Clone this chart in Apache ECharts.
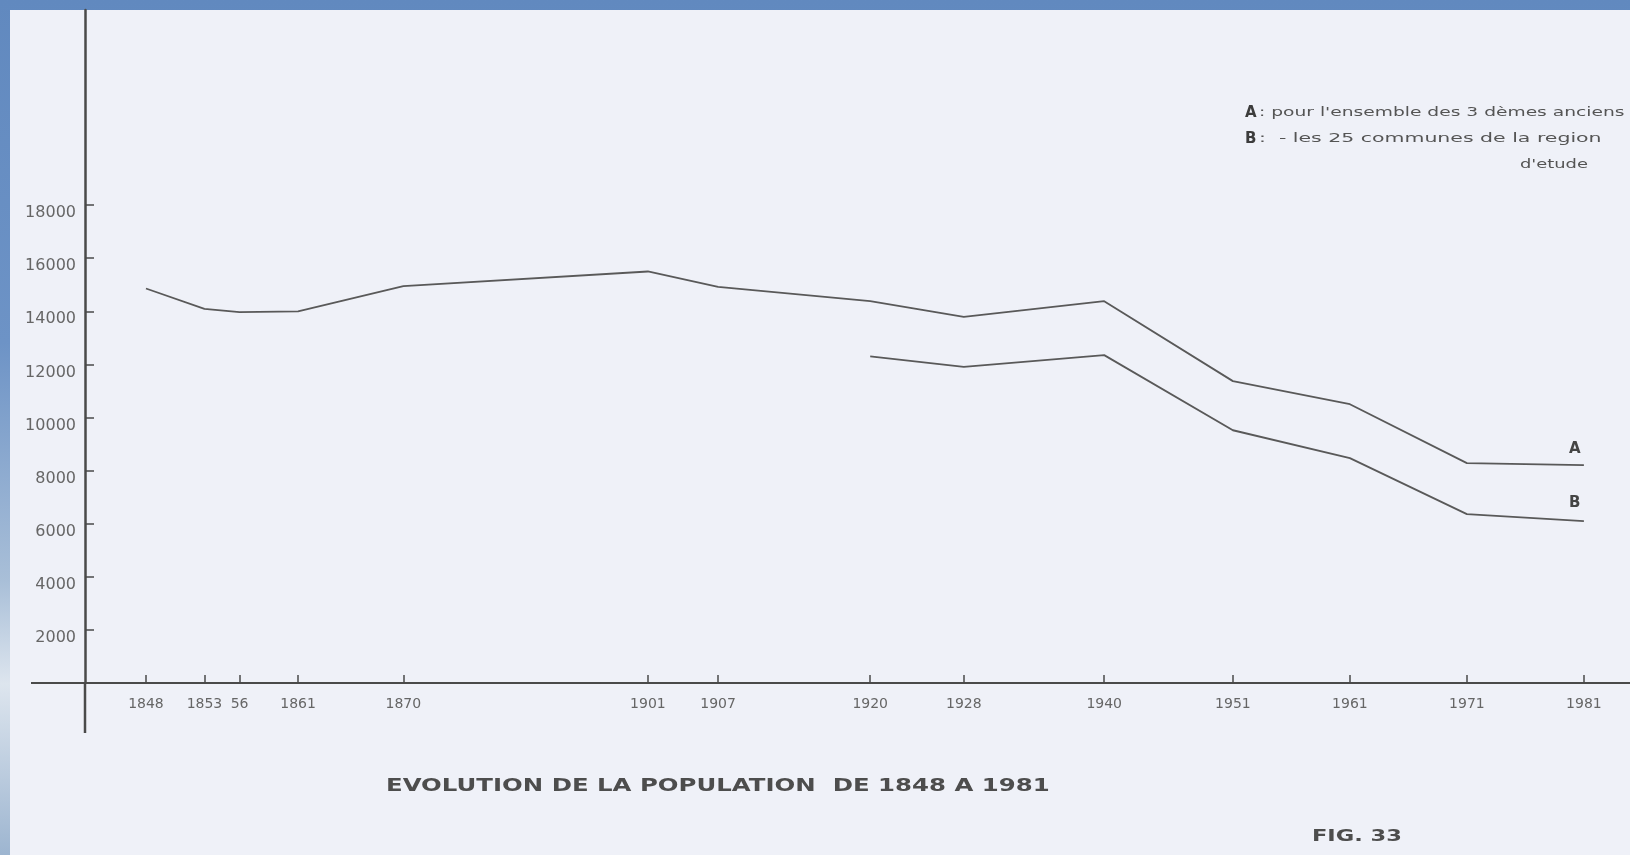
<!DOCTYPE html>
<html><head><meta charset="utf-8">
<script src="https://cdn.jsdelivr.net/npm/echarts@6/dist/echarts.min.js"></script>
<style>
html,body{margin:0;padding:0;width:1630px;height:855px;overflow:hidden;
background:linear-gradient(180deg,#6189bf 0%,#6d93c6 40%,#a9bfd8 68%,#dde5ee 80%,#9db5d0 100%);}
#paper{position:absolute;left:10px;top:10px;right:0;bottom:0;background:#eff1f8;}
#chart{position:absolute;left:0;top:0;width:1630px;height:855px;}
</style></head><body>
<div id="paper"></div><div id="chart"></div>
<script>
// ---- data ----
const years = [1848, 1853, 1856, 1861, 1870, 1901, 1907, 1920, 1928, 1940, 1951, 1961, 1971, 1981];
const tickLabels = ['1848', '1853', '56', '1861', '1870', '1901', '1907', '1920', '1928', '1940', '1951', '1961', '1971', '1981'];
const seriesA = [14860, 14090, 13970, 14000, 14950, 15500, 14920, 14380, 13790, 14380, 11370, 10500, 8280, 8210];
const yearsB = [1920, 1928, 1940, 1951, 1961, 1971, 1981];
const seriesB = [12300, 11910, 12350, 9520, 8470, 6360, 6100];
const yTicks = [2000, 4000, 6000, 8000, 10000, 12000, 14000, 16000, 18000];
const legendA = ": pour l'ensemble des 3 dèmes anciens";
const legendB = ":  - les 25 communes de la region";
const legendB2 = "d'etude";
const title = 'EVOLUTION DE LA POPULATION  DE 1848 A 1981';
const figLabel = 'FIG. 33';

const ink = '#4a4a4a';
const lineInk = '#595959';
const labelInk = '#666666';

const chart = echarts.init(document.getElementById('chart'), null, {renderer: 'canvas'});
chart.setOption({
  animation: false,
  backgroundColor: 'transparent',
  grid: {left: 85, right: 0, top: 10, bottom: 172, containLabel: false},
  xAxis: {
    type: 'value',
    min: 1842.79,
    max: 1984.94,
    breaks: [{start: 1874, end: 1897, gap: 12.9}],
    breakArea: {show: false},
    axisLine: {show: true, lineStyle: {color: ink, width: 2}},
    axisTick: {show: true, inside: true, length: 8, customValues: years, lineStyle: {color: ink, width: 1.5}},
    axisLabel: {
      show: true, customValues: years, margin: 14,
      fontFamily: 'DejaVu Sans', fontSize: 14, color: labelInk,
      formatter: function (v) { const i = years.indexOf(v); return i >= 0 ? tickLabels[i] : ''; }
    },
    splitLine: {show: false}
  },
  yAxis: {
    type: 'value',
    min: 0,
    max: 25349,
    axisLine: {show: true, lineStyle: {color: ink, width: 2.5}},
    axisTick: {show: true, inside: true, length: 9, customValues: yTicks, lineStyle: {color: ink, width: 1.5}},
    axisLabel: {
      show: true, customValues: yTicks, margin: 9, verticalAlign: 'top',
      fontFamily: 'DejaVu Sans', fontSize: 16, color: labelInk,
      formatter: function (v) { return String(v); }
    },
    splitLine: {show: false}
  },
  series: [
    {
      name: 'A', type: 'line', symbol: 'none',
      data: years.map((y, i) => [y, seriesA[i]]),
      lineStyle: {color: lineInk, width: 1.8},
      endLabel: {show: true, formatter: '{a}', offset: [-23, -16], fontFamily: 'DejaVu Sans', fontWeight: 'bold', fontSize: 15, color: '#444'}
    },
    {
      name: 'B', type: 'line', symbol: 'none',
      data: yearsB.map((y, i) => [y, seriesB[i]]),
      lineStyle: {color: lineInk, width: 1.8},
      endLabel: {show: true, formatter: '{a}', offset: [-23, -18], fontFamily: 'DejaVu Sans', fontWeight: 'bold', fontSize: 15, color: '#444'}
    }
  ],
  graphic: [
    {type: 'line', z: 0, shape: {x1: 31, y1: 683, x2: 1630, y2: 683}, style: {stroke: ink, lineWidth: 2}},
    {type: 'line', z: 0, shape: {x1: 85, y1: 682, x2: 85, y2: 733}, style: {stroke: ink, lineWidth: 2.5}},
    {type: 'text', x: 1245, y: 113, style: {text: 'A', fontFamily: 'DejaVu Sans', fontWeight: 'bold', fontSize: 15, fill: '#3c3c3c', verticalAlign: 'middle', align: 'left'}},
    {type: 'text', x: 1259, y: 113, scaleX: 1.555, style: {text: legendA, fontFamily: 'DejaVu Sans', fontSize: 12, fill: '#555', verticalAlign: 'middle', align: 'left'}},
    {type: 'text', x: 1245, y: 139, style: {text: 'B', fontFamily: 'DejaVu Sans', fontWeight: 'bold', fontSize: 15, fill: '#3c3c3c', verticalAlign: 'middle', align: 'left'}},
    {type: 'text', x: 1259, y: 139, scaleX: 1.705, style: {text: legendB, fontFamily: 'DejaVu Sans', fontSize: 12, fill: '#555', verticalAlign: 'middle', align: 'left'}},
    {type: 'text', x: 1520, y: 165, scaleX: 1.49, style: {text: legendB2, fontFamily: 'DejaVu Sans', fontSize: 12, fill: '#555', verticalAlign: 'middle', align: 'left'}},
    {type: 'text', x: 386, y: 786, scaleX: 1.355, style: {text: title, fontFamily: 'DejaVu Sans', fontWeight: 'bold', fontSize: 18, fill: '#4d4d4d', verticalAlign: 'middle', align: 'left'}},
    {type: 'text', x: 1312, y: 837, scaleX: 1.5, style: {text: figLabel, fontFamily: 'DejaVu Sans', fontWeight: 'bold', fontSize: 15, fill: '#4d4d4d', verticalAlign: 'middle', align: 'left'}}
  ]
});
</script>
</body></html>
